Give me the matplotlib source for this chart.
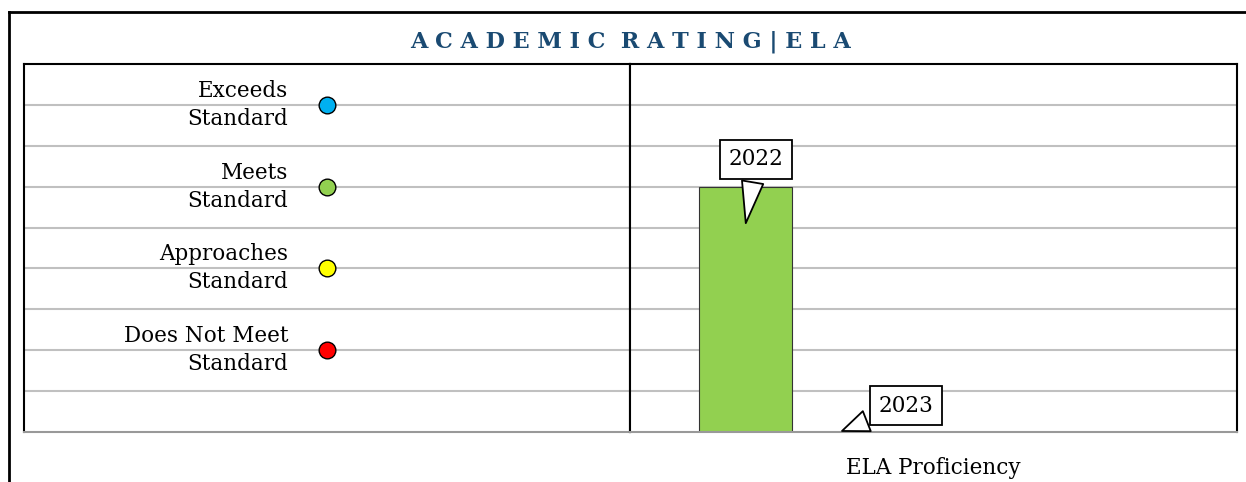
import matplotlib.pyplot as plt
from matplotlib.lines import Line2D

# data
levels = ["Exceeds\nStandard", "Meets\nStandard", "Approaches\nStandard", "Does Not Meet\nStandard"]
level_values = [8, 6, 4, 2]
level_colors = ["#00B0F0", "#92D050", "#FFFF00", "#FF0000"]

category = "ELA Proficiency"
years = ["2022", "2023"]
scores = [6, 0]
bar_color = "#92D050"

plt.rcParams['font.family'] = ['DejaVu Serif']

fig = plt.figure(figsize=(12.46, 4.82), dpi=100)

# outer frame (top + left line)
fig.add_artist(Line2D([9/1246, 1.0], [1 - 12/482, 1 - 12/482], color='black', lw=2, transform=fig.transFigure))
fig.add_artist(Line2D([9/1246, 9/1246], [0, 1 - 12/482], color='black', lw=2, transform=fig.transFigure))

fig.text(631/1246, 1 - 42/482, "A C A D E M I C  R A T I N G | E L A", ha='center', va='center',
         fontsize=16, fontweight='bold', color='#1a4a72')

bot = 1 - 432/482
hgt = (432 - 64) / 482
x0 = 24/1246
xm = 630/1246
x1 = 1237/1246

axl = fig.add_axes([x0, bot, xm - x0, hgt])
axr = fig.add_axes([xm, bot, x1 - xm, hgt])

for ax in (axl, axr):
    ax.set_ylim(0, 9)
    for yv in range(1, 9):
        ax.axhline(yv, color='#c0c0c0', lw=1.5, zorder=0)
    ax.set_yticks([])
    for s in ['top', 'left', 'right']:
        ax.spines[s].set_linewidth(1.5)
        ax.spines[s].set_color('black')
    ax.spines['bottom'].set_color('#999999')
    ax.spines['bottom'].set_linewidth(1.5)

# left panel: rating levels
axl.set_xlim(0, 1)
axl.set_xticks([])
for lab, yv, c in zip(levels, level_values, level_colors):
    axl.plot(0.5, yv, 'o', ms=12, mfc=c, mec='black', mew=1, zorder=3)
    axl.text(0.436, yv, lab, ha='right', va='center', fontsize=15.5, linespacing=1.35)

# right panel: bars
axr.set_xlim(-0.5, 0.5)
w = 0.155
for i, (yr, v) in enumerate(zip(years, scores)):
    xp = (i - 2) * w
    axr.bar(xp, v, width=w * 0.99, color=bar_color, edgecolor='#333333', lw=0.8, zorder=2)
    tip = v * 0.84
    off = [(8, 48), (48, 19)][i]
    axr.annotate(yr, xy=(xp, tip), xytext=off, textcoords='offset points',
                 ha='center', va='center', fontsize=15.5, zorder=5,
                 bbox=dict(boxstyle='square,pad=0.4', fc='white', ec='black', lw=1.3),
                 arrowprops=dict(arrowstyle='wedge,tail_width=1.0,shrink_factor=0.5', fc='white', ec='black', lw=1.3))

axr.set_xticks([0])
axr.set_xticklabels([category], fontsize=15.5)
axr.tick_params(axis='x', length=0, pad=18)

fig.savefig('out.png', dpi=100)
